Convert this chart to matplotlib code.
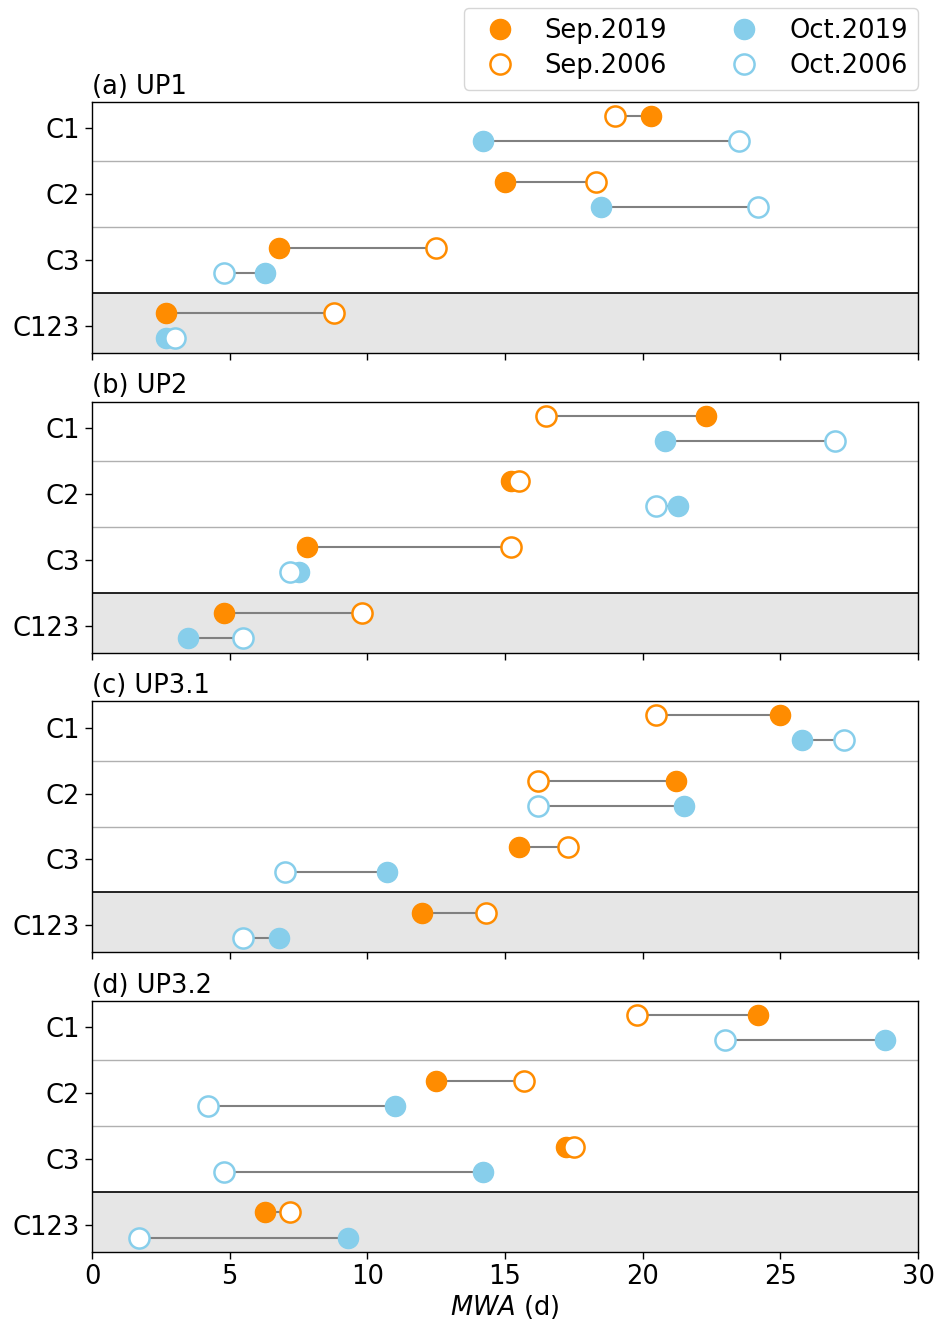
import numpy as np
import matplotlib
matplotlib.use("Agg")
import matplotlib.pyplot as plt
from matplotlib.lines import Line2D

# mean water age per compartment, one list per station (C1, C2, C3, C123)
categories = ['C1', 'C2', 'C3', 'C123']
panel_titles = ['(a) UP1', '(b) UP2', '(c) UP3.1', '(d) UP3.2']

sep_2019 = [[20.3, 15.0, 6.8, 2.7],
            [22.3, 15.2, 7.8, 4.8],
            [25.0, 21.2, 15.5, 12.0],
            [24.2, 12.5, 17.2, 6.3]]
sep_2006 = [[19.0, 18.3, 12.5, 8.8],
            [16.5, 15.5, 15.2, 9.8],
            [20.5, 16.2, 17.3, 14.3],
            [19.8, 15.7, 17.5, 7.2]]
oct_2019 = [[14.2, 18.5, 6.3, 2.7],
            [20.8, 21.3, 7.5, 3.5],
            [25.8, 21.5, 10.7, 6.8],
            [28.8, 11.0, 14.2, 9.3]]
oct_2006 = [[23.5, 24.2, 4.8, 3.0],
            [27.0, 20.5, 7.2, 5.5],
            [27.3, 16.2, 7.0, 5.5],
            [23.0, 4.2, 4.8, 1.7]]

c_sep = 'darkorange'
c_oct = 'skyblue'
ms = 14.5
mew = 1.8
off = 0.19
fs = 18.5

plt.rcParams['font.size'] = fs

fig, axes = plt.subplots(4, 1, figsize=(9.41, 13.27), dpi=100, sharex=True)
fig.subplots_adjust(left=92/941, right=918/941, top=1-102/1327,
                    bottom=1-1252/1327, hspace=0.194)

y = np.arange(len(categories))

for i, ax in enumerate(axes):
    ax.axhspan(2.5, 3.6, color='#e6e6e6', zorder=0)
    ax.axhline(0.5, color='#b0b0b0', lw=1, zorder=1)
    ax.axhline(1.5, color='#b0b0b0', lw=1, zorder=1)
    ax.axhline(2.5, color='k', lw=1.2, zorder=1)

    for rows, new, old, col in [(y - off, sep_2019[i], sep_2006[i], c_sep),
                                (y + off, oct_2019[i], oct_2006[i], c_oct)]:
        ax.hlines(rows, new, old, color='grey', lw=1.5, zorder=2)
        ax.plot(new, rows, 'o', ms=ms, color=col, mec=col, zorder=3)
        ax.plot(old, rows, 'o', ms=ms, mfc='white', mec=col, mew=mew, zorder=4)

    ax.set_yticks(y)
    ax.set_yticklabels(categories)
    ax.set_ylim(3.41, -0.4)
    ax.set_xlim(0, 30)
    ax.set_xticks(np.arange(0, 31, 5))
    ax.tick_params(length=5, width=1)
    for s in ax.spines.values():
        s.set_linewidth(1.0)
    ax.set_title(panel_titles[i], loc='left', fontsize=fs, pad=6)

axes[-1].set_xlabel(r'$\it{MWA}$ (d)', fontsize=fs, labelpad=2)

handles = [
    Line2D([], [], ls='', marker='o', ms=ms, color=c_sep),
    Line2D([], [], ls='', marker='o', ms=ms, mfc='white', mec=c_sep, mew=mew),
    Line2D([], [], ls='', marker='o', ms=ms, color=c_oct),
    Line2D([], [], ls='', marker='o', ms=ms, mfc='white', mec=c_oct, mew=mew),
]
labels = ['Sep.2019', 'Sep.2006', 'Oct.2019', 'Oct.2006']
fig.legend(handles, labels, ncol=2, loc='upper right',
           bbox_to_anchor=(918/941, 1-8/1327), borderaxespad=0,
           fontsize=fs, columnspacing=2.0, labelspacing=0.35,
           handlelength=2.0, handletextpad=0.75)

fig.savefig('out.png', dpi=100)
